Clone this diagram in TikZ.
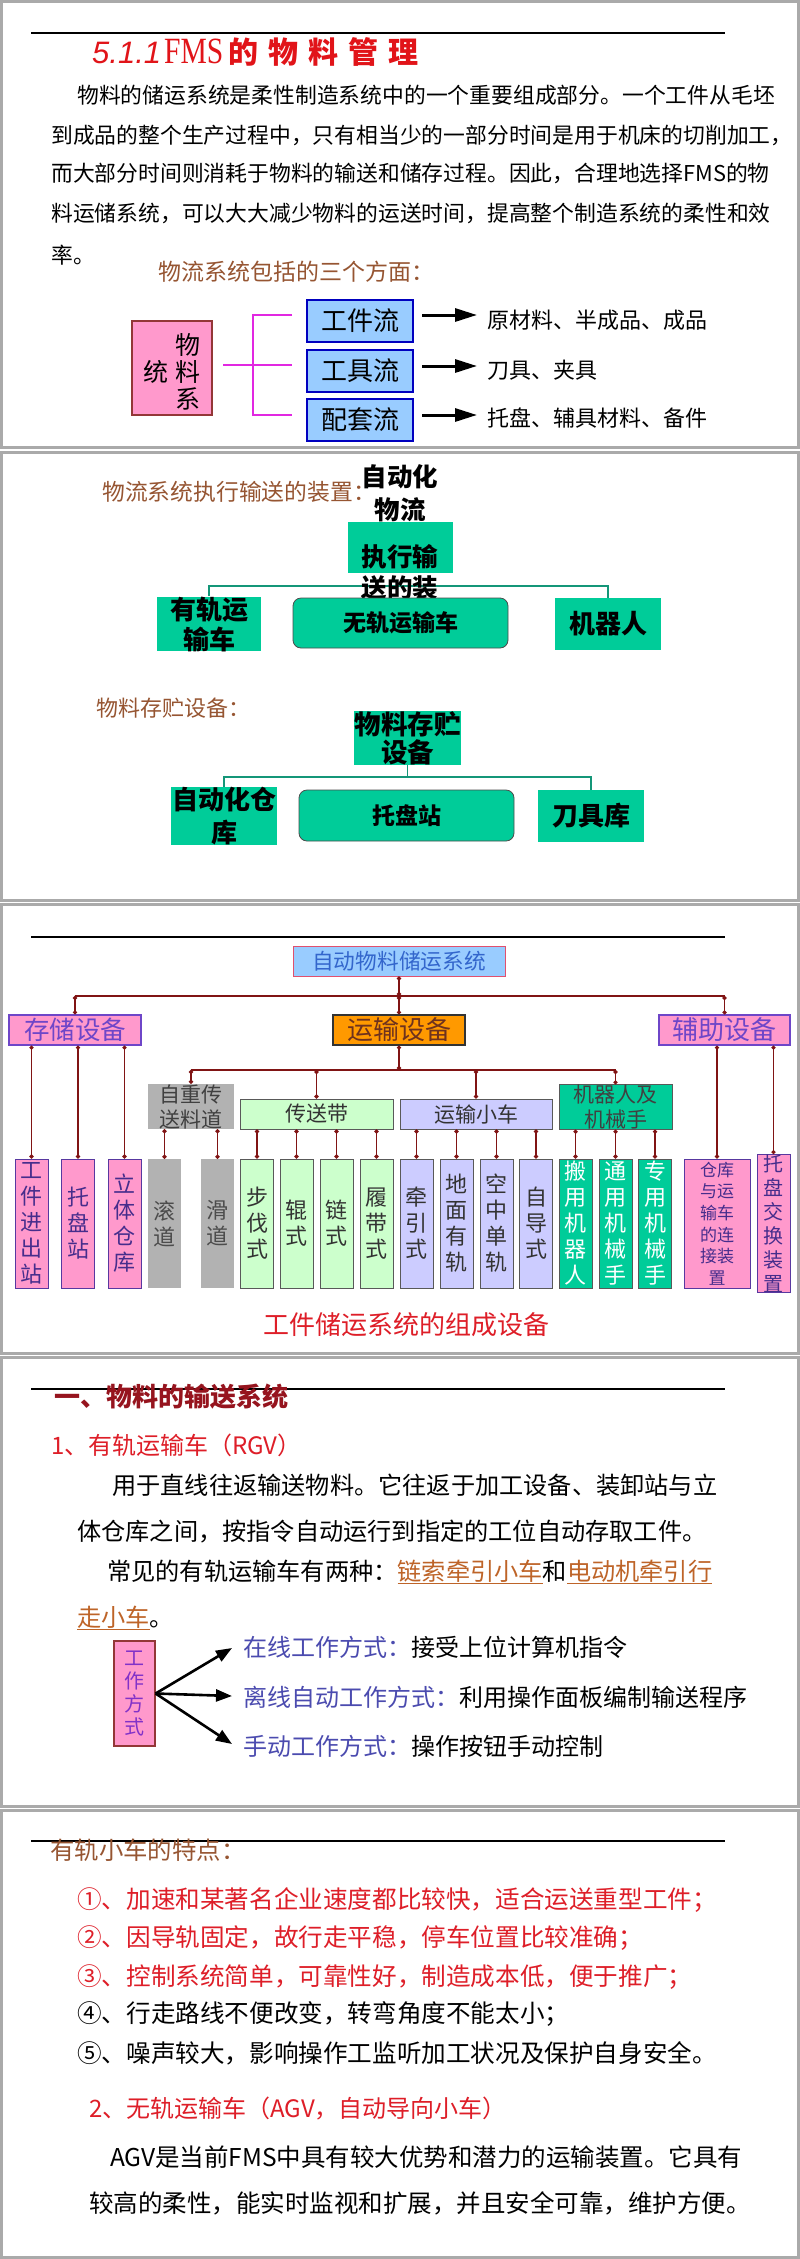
\documentclass[tikz,border=0pt]{standalone}
\usepackage{fontspec}
\setmainfont{Noto Sans CJK SC}
\newfontfamily\numfont{Liberation Sans}
\newfontfamily\fmsfont[FakeStretch=0.8]{Liberation Serif}
\usepackage{tikz}
\usetikzlibrary{calc, positioning, arrows.meta}
\usepackage{xcolor}
\definecolor{framegray}{RGB}{170,170,170}
\definecolor{pinkfill}{RGB}{255,153,204}
\definecolor{bluefill}{RGB}{153,204,255}
\definecolor{tealfill}{RGB}{0,204,153}
\definecolor{tealline}{RGB}{20,150,120}
\definecolor{headbrown}{RGB}{150,85,50}
\definecolor{titlered}{RGB}{225,20,25}
\definecolor{txtred}{RGB}{222,30,40}
\definecolor{headred}{RGB}{150,20,30}
\definecolor{darkred}{RGB}{128,20,20}
\definecolor{boxpurple}{RGB}{110,70,200}
\definecolor{leafpurple}{RGB}{70,45,140}
\definecolor{grayfill}{RGB}{178,178,178}
\definecolor{greenfill}{RGB}{204,255,204}
\definecolor{lavfill}{RGB}{204,204,255}
\definecolor{orangefill}{RGB}{255,153,0}
\definecolor{rootred}{RGB}{225,80,110}
\definecolor{rootblue}{RGB}{51,102,204}
\definecolor{modeblue}{RGB}{75,75,175}
\definecolor{modepurple}{RGB}{130,50,200}
\definecolor{linkbrown}{RGB}{190,100,40}
\definecolor{magenta2}{RGB}{225,40,225}
\newcommand{\fsize}[2]{\fontsize{#1}{#2}\selectfont}
\newcommand{\ulink}[1]{{\color{linkbrown}\underline{#1}}}

\begin{document}
\begin{tikzpicture}[
  x=1pt, y=-1pt,
  txt/.style={anchor=west, inner sep=0pt, font=\fsize{22}{26}},
  ctxt/.style={inner sep=0pt, align=center},
  panel/.style={draw=framegray, line width=3pt},
  topline/.style={line width=1.6pt},
  bluebox/.style={draw=blue!75!black, line width=2pt, fill=bluefill,
                  minimum width=106, minimum height=42, inner sep=0pt, font=\fsize{26}{30}},
  tealbox/.style={fill=tealfill, minimum width=106, minimum height=52, inner sep=0pt,
                  align=center, font=\bfseries\fsize{26}{30}},
  roundbox/.style={draw=black!70, fill=tealfill, rounded corners=8pt, line width=0.8pt,
                   minimum width=215, minimum height=50, font=\bfseries\fsize{23}{26}},
  boldtxt/.style={inner sep=0pt, font=\bfseries\fsize{25.5}{30}},
  tline/.style={draw=tealline, line width=1.5pt},
  rline/.style={draw=darkred, line width=1.6pt},
  stem/.style={rline, {Circle[length=4pt]}-{Circle[length=4pt]}},
  magbar/.style={draw=magenta2, line width=1.8pt},
  arr/.style={-{Triangle[length=22pt,width=13pt]}, line width=3pt},
  arrs/.style={-{Triangle[length=16pt,width=12pt]}, line width=2.6pt},
  leaf/.style={minimum width=33, minimum height=129, inner sep=0pt, align=center,
               font=\fsize{22}{26}},
  pinkleaf/.style={leaf, fill=pinkfill, draw=boxpurple!80!black, line width=1pt, text=leafpurple},
  grayleaf/.style={leaf, fill=grayfill, text=black!70},
  greenleaf/.style={leaf, fill=greenfill, draw=black!65, line width=1pt, text=black!80},
  lavleaf/.style={leaf, fill=lavfill, draw=black!65, line width=1pt, text=black!80},
  tealleaf/.style={leaf, fill=tealfill, draw=black!65, line width=1pt, text=white}
]
  \useasboundingbox[fill=white] (0,0) rectangle (800,2259);

  % ── panel 1: FMS material management ──
  \draw[panel] (1.5,1.5) rectangle (798.5,447);
  \draw[topline] (31,33) -- (725,33);
  \node[txt, text=titlered] (title) at (92,52)
    {{\numfont\itshape\fsize{31}{31}5.1.1}\hspace{3pt}{\fmsfont\fsize{37}{37}FMS}\hspace{5pt}{\bfseries\fsize{30}{30}的\hspace{10pt}物\hspace{10pt}料\hspace{10pt}管\hspace{10pt}理}};
  \node[txt, font=\fsize{21.8}{26}] (p1) at (77,95) {物料的储运系统是柔性制造系统中的一个重要组成部分。一个工件从毛坯};
  \node[txt, font=\fsize{21.8}{26}] (p2) at (51,135) {到成品的整个生产过程中，只有相当少的一部分时间是用于机床的切削加工，};
  \node[txt, font=\fsize{21.8}{26}] (p3) at (51,173) {而大部分时间则消耗于物料的输送和储存过程。因此，合理地选择FMS的物};
  \node[txt, font=\fsize{21.8}{26}] (p4) at (51,213) {料运储系统，可以大大减少物料的运送时间，提高整个制造系统的柔性和效};
  \node[txt, font=\fsize{21.8}{26}] (p5) at (51,255) {率。};
  \node[txt, text=headbrown, font=\fsize{23}{26}] (aspects) at (158,272) {物流系统包括的三个方面：};

  \node[draw=darkred!85, line width=2pt, fill=pinkfill, minimum width=80, minimum height=94] (sys) at (172,368) {};
  \node[ctxt, font=\fsize{25}{25}] (sysA) at (188,345) {物};
  \node[ctxt, font=\fsize{25}{25}] (sysB) at (188,372) {料};
  \node[ctxt, font=\fsize{25}{25}] (sysC) at (188,399) {系};
  \node[ctxt, font=\fsize{25}{25}] (sysD) at (156,372) {统};

  \node[bluebox] (b1) at (360,321) {工件流};
  \node[bluebox] (b2) at (360,370.5) {工具流};
  \node[bluebox] (b3) at (360,420) {配套流};
  \node[txt] (t1) at (487,320) {原材料、半成品、成品};
  \node[txt] (t2) at (487,370) {刀具、夹具};
  \node[txt] (t3) at (487,418) {托盘、辅具材料、备件};

  \draw[magbar] ($(sys.east)+(10,-3)$) -- ($(b2.west)+(-14,-5.5)$);
  \draw[magbar] ($(b1.west)+(-14,-6)$) -- ($(b1.west)+(-53,-6)$)
    -- ($(b3.west)+(-53,-5)$) -- ($(b3.west)+(-14,-5)$);
  \draw[arr] ($(b1.east)+(8,-6)$) -- ($(t1.west)+(-10,-5)$);
  \draw[arr] ($(b2.east)+(8,-4.5)$) -- ($(t2.west)+(-10,-4)$);
  \draw[arr] ($(b3.east)+(8,-5)$) -- ($(t3.west)+(-10,-3)$);

  % ── panel 2: conveying and storage devices ──
  \draw[panel] (1.5,452.5) rectangle (798.5,900);
  \node[txt, text=headbrown, font=\fsize{22.8}{26}] (convey) at (102,492) {物流系统执行输送的装置：};
  \node[tealbox, minimum width=105, minimum height=51] (A) at (400.5,547.5) {};
  \node[tealbox, minimum width=104] (L) at (209,624) {有轨运\\输车};
  \node[tealbox] (R) at (608,624) {机器人};
  \coordinate (busA) at (400.5,586);
  \draw[tline] (L.north) |- (busA) -| (R.north);
  \node[boldtxt] (A1) at (400,477) {自动化};
  \node[boldtxt] (A2) at (400,510) {物流};
  \node[boldtxt] (A3) at (400,557) {执行输};
  \node[boldtxt] (A4) at (400,588) {送的装};
  \node[roundbox] (M) at (400.5,623) {无轨运输车};

  \node[txt, text=headbrown, font=\fsize{22}{26}] (store) at (96,708) {物料存贮设备：};
  \node[tealbox, minimum width=107, font=\bfseries\fsize{26.5}{28}] (B) at (407.5,738) {物料存贮\\设备};
  \node[tealbox, font=\bfseries\fsize{26}{33}] (L2) at (224,816) {自动化仓\\库};
  \node[tealbox] (R2) at (591,816) {刀具库};
  \coordinate (busB) at (407.5,777);
  \draw[tline] (L2.north) |- (busB) -| (R2.north);
  \draw[tline] (B.south) -- (busB);
  \node[roundbox, minimum height=51] (M2) at (406.5,815.5) {托盘站};

  % ── panel 3: storage and transport equipment ──
  \draw[panel] (1.5,904) rectangle (798.5,1353);
  \draw[topline] (31,937) -- (725,937);
  \node[draw=rootred, line width=1pt, fill=bluefill, text=rootblue, minimum width=212,
        minimum height=30, inner sep=0pt, font=\fsize{21.7}{24}] (root) at (399,961) {自动物料储运系统};
  \node[draw=boxpurple, line width=1.2pt, fill=pinkfill, text=boxpurple, minimum width=132,
        minimum height=30, inner sep=0pt, font=\fsize{25.5}{28}] (S) at (75,1030) {存储设备};
  \node[draw=black!80, line width=1.2pt, fill=orangefill, text={rgb,255:red,110;green,50;blue,30},
        minimum width=132, minimum height=30, inner sep=0pt, font=\fsize{26}{28}] (T) at (399,1030) {运输设备};
  \node[draw=boxpurple, line width=1.2pt, fill=pinkfill, text=boxpurple, minimum width=131,
        minimum height=30, inner sep=0pt, font=\fsize{26}{28}] (X) at (724.5,1030) {辅助设备};

  \node[fill=grayfill, text=black!75, minimum width=86, minimum height=45, inner sep=0pt,
        align=center, font=\fsize{21}{25}] (G) at (191,1106.5) {自重传\\送料道};
  \node[draw=black!65, line width=1pt, fill=greenfill, text=black!80, minimum width=153,
        minimum height=30, inner sep=0pt, font=\fsize{21}{24}] (C) at (316.5,1114) {传送带};
  \node[draw=black!65, line width=1pt, fill=lavfill, text=black!80, minimum width=152,
        minimum height=30, inner sep=0pt, font=\fsize{21}{24}] (V) at (476,1114) {运输小车};
  \node[draw=black!65, line width=1pt, fill=tealfill, text=black!75, minimum width=113,
        minimum height=44, inner sep=0pt, align=center, font=\fsize{21}{25}] (Rb) at (615.5,1107) {机器人及\\机械手};

  \node[pinkleaf] (s1) at (31.5,1223.5) {工\\件\\进\\出\\站};
  \node[pinkleaf] (s2) at (78,1223.5) {托\\盘\\站};
  \node[pinkleaf] (s3) at (124.5,1223.5) {立\\体\\仓\\库};
  \node[grayleaf] (g1) at (164.5,1223.5) {滚\\道};
  \node[grayleaf] (g2) at (217.5,1223.5) {滑\\道};
  \node[greenleaf] (c1) at (257,1223.5) {步\\伐\\式};
  \node[greenleaf] (c2) at (296.5,1223.5) {辊\\式};
  \node[greenleaf] (c3) at (336.5,1223.5) {链\\式};
  \node[greenleaf] (c4) at (376.5,1223.5) {履\\带\\式};
  \node[lavleaf] (v1) at (416.5,1223.5) {牵\\引\\式};
  \node[lavleaf] (v2) at (456.5,1223.5) {地\\面\\有\\轨};
  \node[lavleaf] (v3) at (496.5,1223.5) {空\\中\\单\\轨};
  \node[lavleaf] (v4) at (536,1223.5) {自\\导\\式};
  \node[tealleaf] (r1) at (575.5,1223.5) {搬\\用\\机\\器\\人};
  \node[tealleaf] (r2) at (615.5,1223.5) {通\\用\\机\\械\\手};
  \node[tealleaf] (r3) at (655,1223.5) {专\\用\\机\\械\\手};
  \node[pinkleaf, minimum width=66, font=\fsize{17}{21.6}] (x1) at (717,1223.5) {仓库\\与运\\输车\\的连\\接装\\置};
  \node[pinkleaf, font=\fsize{20}{24}] (x2) at (773.5,1223.5) {托\\盘\\交\\换\\装\\置};

  \coordinate (bus1) at (399,996);
  \draw[rline] (S.north |- bus1) -- (X.north |- bus1);
  \draw[stem] (root.south) -- (bus1);
  \draw[stem] (bus1) -- (T.north);
  \draw[stem] (S.north |- bus1) -- (S.north);
  \draw[stem] (X.north |- bus1) -- (X.north);
  \draw[stem] (S.south -| s1.north) -- (s1.north);
  \draw[stem] (S.south -| s2.north) -- (s2.north);
  \draw[stem] (S.south -| s3.north) -- (s3.north);
  \draw[stem] (X.south -| x1.north) -- (x1.north);
  \draw[stem] (X.south -| x2.north) -- (x2.north);

  \coordinate (bus2) at (399,1070);
  \draw[stem] (T.south) -- (bus2);
  \draw[rline] (G.north |- bus2) -- (Rb.north |- bus2);
  \draw[stem] (G.north |- bus2) -- (G.north);
  \draw[stem] (C.north |- bus2) -- (C.north);
  \draw[stem] (V.north |- bus2) -- (V.north);
  \draw[stem] (Rb.north |- bus2) -- (Rb.north);
  \draw[stem] (G.south -| g1.north) -- (g1.north);
  \draw[stem] (G.south -| g2.north) -- (g2.north);
  \draw[stem] (C.south -| c1.north) -- (c1.north);
  \draw[stem] (C.south -| c2.north) -- (c2.north);
  \draw[stem] (C.south -| c3.north) -- (c3.north);
  \draw[stem] (C.south -| c4.north) -- (c4.north);
  \draw[stem] (V.south -| v1.north) -- (v1.north);
  \draw[stem] (V.south -| v2.north) -- (v2.north);
  \draw[stem] (V.south -| v3.north) -- (v3.north);
  \draw[stem] (V.south -| v4.north) -- (v4.north);
  \draw[stem] (Rb.south -| r1.north) -- (r1.north);
  \draw[stem] (Rb.south -| r2.north) -- (r2.north);
  \draw[stem] (Rb.south -| r3.north) -- (r3.north);

  \node[ctxt, text=txtred, font=\fsize{26}{28}] (caption) at (406,1325) {工件储运系统的组成设备};

  % ── panel 4: rail guided vehicle ──
  \draw[panel] (1.5,1357) rectangle (798.5,1806);
  \draw[topline] (31,1389) -- (725,1389);
  \node[txt, text=headred, font=\bfseries\fsize{26}{28}] (sec) at (54,1397) {一、物料的输送系统};
  \node[txt, text=txtred, font=\fsize{24}{28}] (rgv) at (51,1445) {1、有轨运输车（RGV）};
  \node[txt, font=\fsize{24.2}{28}] (q1) at (112,1485) {用于直线往返输送物料。它往返于加工设备、装卸站与立};
  \node[txt, font=\fsize{24.2}{28}] (q2) at (77,1532) {体仓库之间，按指令自动运行到指定的工位自动存取工件。};
  \node[txt, font=\fsize{24.2}{28}] (q3) at (107,1572) {常见的有轨运输车有两种：\ulink{链索牵引小车}和\ulink{电动机牵引行}};
  \node[txt, font=\fsize{24.2}{28}] (q4) at (77,1618) {\ulink{走小车}。};

  \node[draw=darkred!85, line width=1.2pt, fill=pinkfill, text=modepurple, minimum width=41,
        minimum height=105, inner sep=0pt, align=center, font=\fsize{20}{22.7}] (mode) at (134.5,1693.5) {工\\作\\方\\式};
  \node[txt, font=\fsize{24}{28}] (m1) at (243,1647) {\textcolor{modeblue}{在线工作方式：}接受上位计算机指令};
  \node[txt, font=\fsize{24}{28}] (m2) at (243,1697) {\textcolor{modeblue}{离线自动工作方式：}利用操作面板编制输送程序};
  \node[txt, font=\fsize{24}{28}] (m3) at (243,1746) {\textcolor{modeblue}{手动工作方式：}操作按钮手动控制};
  \draw[arrs] (mode.east) -- ($(m1.west)+(-11,1)$);
  \draw[arrs] (mode.east) -- ($(m2.west)+(-11,-1)$);
  \draw[arrs] (mode.east) -- ($(m3.west)+(-11,-2)$);

  % ── panel 5: features, AGV ──
  \draw[panel] (1.5,1810) rectangle (798.5,2257.5);
  \draw[topline] (31,1841) -- (725,1841);
  \node[txt, text=headbrown, font=\fsize{24.4}{28}] (feat) at (50,1850) {有轨小车的特点：};
  \node[txt, text=txtred, font=\fsize{24.6}{28}] (f1) at (77,1900) {①、加速和某著名企业速度都比较快，适合运送重型工件；};
  \node[txt, text=txtred, font=\fsize{24.6}{28}] (f2) at (77,1938) {②、因导轨固定，故行走平稳，停车位置比较准确；};
  \node[txt, text=txtred, font=\fsize{24.6}{28}] (f3) at (77,1977) {③、控制系统简单，可靠性好，制造成本低，便于推广；};
  \node[txt, font=\fsize{24.6}{28}] (f4) at (77,2014) {④、行走路线不便改变，转弯角度不能太小；};
  \node[txt, font=\fsize{24.6}{28}] (f5) at (77,2053) {⑤、噪声较大，影响操作工监听加工状况及保护自身安全。};
  \node[txt, text=txtred, font=\fsize{24}{28}] (agv) at (89,2108) {2、无轨运输车（AGV，自动导向小车）};
  \node[txt, font=\fsize{24.5}{28}] (g1txt) at (110,2157) {AGV是当前FMS中具有较大优势和潜力的运输装置。它具有};
  \node[txt, font=\fsize{24.5}{28}] (g2txt) at (89,2203) {较高的柔性，能实时监视和扩展，并且安全可靠，维护方便。};
\end{tikzpicture}
\end{document}
